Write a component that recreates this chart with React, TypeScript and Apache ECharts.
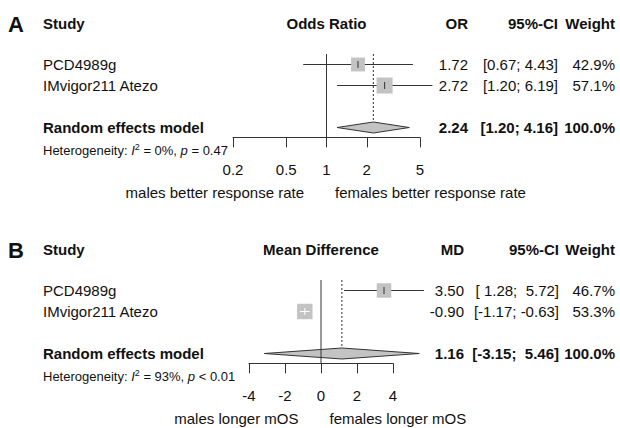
import React, { useEffect, useRef } from "react";
import * as echarts from "echarts";

// ---------- data ----------
const studies = ["PCD4989g", "IMvigor211 Atezo"];

const orEst = [1.72, 2.72];
const orLower = [0.67, 1.2];
const orUpper = [4.43, 6.19];
const orWeight = [42.9, 57.1];
const orPooled = [2.24, 1.2, 4.16]; // estimate, lower, upper
const orTicks = [0.2, 0.5, 1, 2, 5];
const orHet = ["0%", "= 0.47"];

const mdEst = [3.5, -0.9];
const mdLower = [1.28, -1.17];
const mdUpper = [5.72, -0.63];
const mdWeight = [46.7, 53.3];
const mdPooled = [1.16, -3.15, 5.46];
const mdTicks = [-4, -2, 0, 2, 4];
const mdHet = ["93%", "< 0.01"];

// ---------- layout ----------
const FONT = "'Liberation Sans', Arial, Helvetica, sans-serif";
const ROW_PX = 21;
const Y_MAX = 4.47;
const POOLED_ROW = 4;
const HEADER_ROW = -0.93;
const HET_ROW = 5.08;
const NULL_TOP = 0.5;
const LINE = "#333";
const FILL = "#c3c3c3";
const TXT = "#111";

const fmt2 = (v: number) => v.toFixed(2);
function ciStrings(lo: number[], hi: number[]) {
  const L = lo.map(fmt2);
  const H = hi.map(fmt2);
  const wl = Math.max(...L.map((s) => s.length));
  const wh = Math.max(...H.map((s) => s.length));
  return L.map((l, i) => `[${l.padStart(wl)}; ${H[i].padStart(wh)}]`);
}

const panels = [
  {
    letter: "A",
    measure: "Odds Ratio",
    estHead: "OR",
    tr: (v: number) => Math.log10(v),
    est: orEst,
    lo: orLower,
    hi: orUpper,
    w: orWeight,
    pooled: orPooled,
    ticks: orTicks,
    nullValue: 1,
    het: orHet,
    leftLabel: "males better response rate",
    rightLabel: "females better response rate",
    top: 43.5,
    gridLeft: 233,
    gridWidth: 187,
    estRight: 468,
    ciRight: 558,
    wRight: 615,
  },
  {
    letter: "B",
    measure: "Mean Difference",
    estHead: "MD",
    tr: (v: number) => v,
    est: mdEst,
    lo: mdLower,
    hi: mdUpper,
    w: mdWeight,
    pooled: mdPooled,
    ticks: mdTicks,
    nullValue: 0,
    het: mdHet,
    leftLabel: "males longer mOS",
    rightLabel: "females longer mOS",
    top: 269.5,
    gridLeft: 249,
    gridWidth: 144,
    estRight: 464,
    ciRight: 559,
    wRight: 615,
  },
];

function txt(text: string, x: number, y: number, align: string, bold = false, size = 15) {
  return {
    type: "text",
    style: {
      text,
      x,
      y,
      align,
      verticalAlign: "middle",
      fill: TXT,
      fontSize: size,
      fontFamily: FONT,
      fontWeight: bold ? "bold" : "normal",
    },
  };
}

function buildOption() {
  const grid: any[] = [];
  const xAxis: any[] = [];
  const yAxis: any[] = [];
  const series: any[] = [];

  panels.forEach((p, k) => {
    grid.push({ left: p.gridLeft, width: p.gridWidth, top: p.top, height: Y_MAX * ROW_PX });
    const tickVals = p.ticks.map(p.tr);
    xAxis.push({
      gridIndex: k,
      type: "value",
      position: "bottom",
      min: p.tr(p.ticks[0]),
      max: p.tr(p.ticks[p.ticks.length - 1]),
      axisLine: { show: true, onZero: false, lineStyle: { color: LINE, width: 1 } },
      axisTick: { show: true, length: 10, customValues: tickVals, lineStyle: { color: LINE, width: 1 } },
      axisLabel: {
        customValues: tickVals,
        margin: 25,
        fontSize: 15,
        color: TXT,
        fontFamily: FONT,
        formatter: (v: number) => {
          const orig = k === 0 ? Math.pow(10, v) : v;
          return String(Number(orig.toPrecision(2)));
        },
      },
      splitLine: { show: false },
    });
    yAxis.push({ gridIndex: k, type: "value", inverse: true, min: 0, max: Y_MAX, show: false });

    const cis = ciStrings([...p.lo, p.pooled[1]], [...p.hi, p.pooled[2]]);

    // study rows
    series.push({
      type: "custom",
      xAxisIndex: k,
      yAxisIndex: k,
      silent: true,
      clip: false,
      data: p.est.map((e, i) => [p.tr(e), p.tr(p.lo[i]), p.tr(p.hi[i]), p.w[i], i + 1]),
      renderItem: (params: any, api: any) => {
        const i = params.dataIndex;
        const row = api.value(4);
        const pE = api.coord([api.value(0), row]);
        const pL = api.coord([api.value(1), row]);
        const pH = api.coord([api.value(2), row]);
        const y = pE[1];
        const s = 2.12 * Math.sqrt(api.value(3));
        const inside = pL[0] >= pE[0] - s / 2 && pH[0] <= pE[0] + s / 2;
        const col = inside ? "#fff" : LINE;
        const ciLine = {
          type: "line",
          shape: { x1: pL[0], y1: y, x2: pH[0], y2: y },
          style: { stroke: col, lineWidth: 1 },
        };
        const children: any[] = [];
        if (!inside) children.push(ciLine);
        children.push({
          type: "rect",
          shape: { x: pE[0] - s / 2, y: y - s / 2, width: s, height: s },
          style: { fill: FILL },
        });
        if (inside) children.push(ciLine);
        children.push({
          type: "line",
          shape: { x1: pE[0], y1: y - 3.5, x2: pE[0], y2: y + 3.5 },
          style: { stroke: col, lineWidth: 1 },
        });
        children.push(txt(studies[i], 43, y, "left"));
        children.push(txt(fmt2(p.est[i]), p.estRight, y, "right"));
        children.push(txt(cis[i], p.ciRight, y, "right"));
        children.push(txt(p.w[i].toFixed(1) + "%", p.wRight, y, "right"));
        return { type: "group", children };
      },
    });

    // pooled estimate
    series.push({
      type: "custom",
      xAxisIndex: k,
      yAxisIndex: k,
      silent: true,
      clip: false,
      data: [[p.tr(p.pooled[0]), p.tr(p.pooled[1]), p.tr(p.pooled[2]), POOLED_ROW]],
      renderItem: (params: any, api: any) => {
        const row = api.value(3);
        const pE = api.coord([api.value(0), row]);
        const pL = api.coord([api.value(1), row]);
        const pH = api.coord([api.value(2), row]);
        const top = api.coord([api.value(0), NULL_TOP]);
        const y = pE[1];
        const h = 5.5;
        const totalW = p.w.reduce((a, b) => a + b, 0);
        return {
          type: "group",
          children: [
            {
              type: "line",
              shape: { x1: pE[0], y1: top[1], x2: pE[0], y2: y - h },
              style: { stroke: LINE, lineWidth: 1, lineDash: [2, 2] },
            },
            {
              type: "polygon",
              shape: {
                points: [
                  [pL[0], y],
                  [pE[0], y - h],
                  [pH[0], y],
                  [pE[0], y + h],
                ],
              },
              style: { fill: FILL, stroke: LINE, lineWidth: 1 },
            },
            txt("Random effects model", 43, y, "left", true),
            txt(fmt2(p.pooled[0]), p.estRight, y, "right", true),
            txt(cis[cis.length - 1], p.ciRight, y, "right", true),
            txt(totalW.toFixed(1) + "%", p.wRight, y, "right", true),
          ],
        };
      },
    });

    // decorations: null line, headers, heterogeneity, axis titles
    series.push({
      type: "custom",
      xAxisIndex: k,
      yAxisIndex: k,
      silent: true,
      clip: false,
      data: [[p.tr(p.nullValue), 0]],
      renderItem: (params: any, api: any) => {
        const nx = api.value(0);
        const nTop = api.coord([nx, NULL_TOP]);
        const nBot = api.coord([nx, Y_MAX]);
        const hy = api.coord([nx, HEADER_ROW])[1];
        const hetY = api.coord([nx, HET_ROW])[1];
        const xMin = api.coord([p.tr(p.ticks[0]), 0])[0];
        const xMax = api.coord([p.tr(p.ticks[p.ticks.length - 1]), 0])[0];
        const titleY = nBot[1] + 55;
        return {
          type: "group",
          children: [
            {
              type: "line",
              shape: { x1: nTop[0], y1: nTop[1], x2: nBot[0], y2: nBot[1] },
              style: { stroke: LINE, lineWidth: 1 },
            },
            txt(p.letter, 8, hy + 1, "left", true, 22),
            txt("Study", 43, hy, "left", true),
            txt(p.measure, (xMin + xMax) / 2, hy, "center", true),
            txt(p.estHead, p.estRight, hy, "right", true),
            txt("95%-CI", p.ciRight, hy, "right", true),
            txt("Weight", p.wRight, hy, "right", true),
            {
              type: "text",
              style: {
                text: `{n|Heterogeneity: }{i|I}{s|2}{n| = ${p.het[0]}, }{i|p}{n| ${p.het[1]}}`,
                x: 43,
                y: hetY,
                align: "left",
                verticalAlign: "middle",
                fill: TXT,
                fontFamily: FONT,
                fontSize: 13,
                rich: {
                  n: { fontSize: 13, fontFamily: FONT, fill: TXT, lineHeight: 15 },
                  i: { fontSize: 13, fontFamily: FONT, fontStyle: "italic", fill: TXT, lineHeight: 15 },
                  s: { fontSize: 9, fontFamily: FONT, fill: TXT, lineHeight: 9, verticalAlign: "top" },
                },
              },
            },
            txt(p.leftLabel, nTop[0] - 22.5, titleY, "right"),
            txt(p.rightLabel, nTop[0] + 8.5, titleY, "left"),
          ],
        };
      },
    });
  });

  return { animation: false, backgroundColor: "#fff", grid, xAxis, yAxis, series };
}

export default function App() {
  const ref = useRef<HTMLDivElement>(null);
  useEffect(() => {
    document.body.style.margin = "0";
    const chart = echarts.init(ref.current!, null, { renderer: "svg" });
    chart.setOption(buildOption() as any);
    return () => chart.dispose();
  }, []);
  return <div ref={ref} style={{ width: 620, height: 428 }} />;
}
